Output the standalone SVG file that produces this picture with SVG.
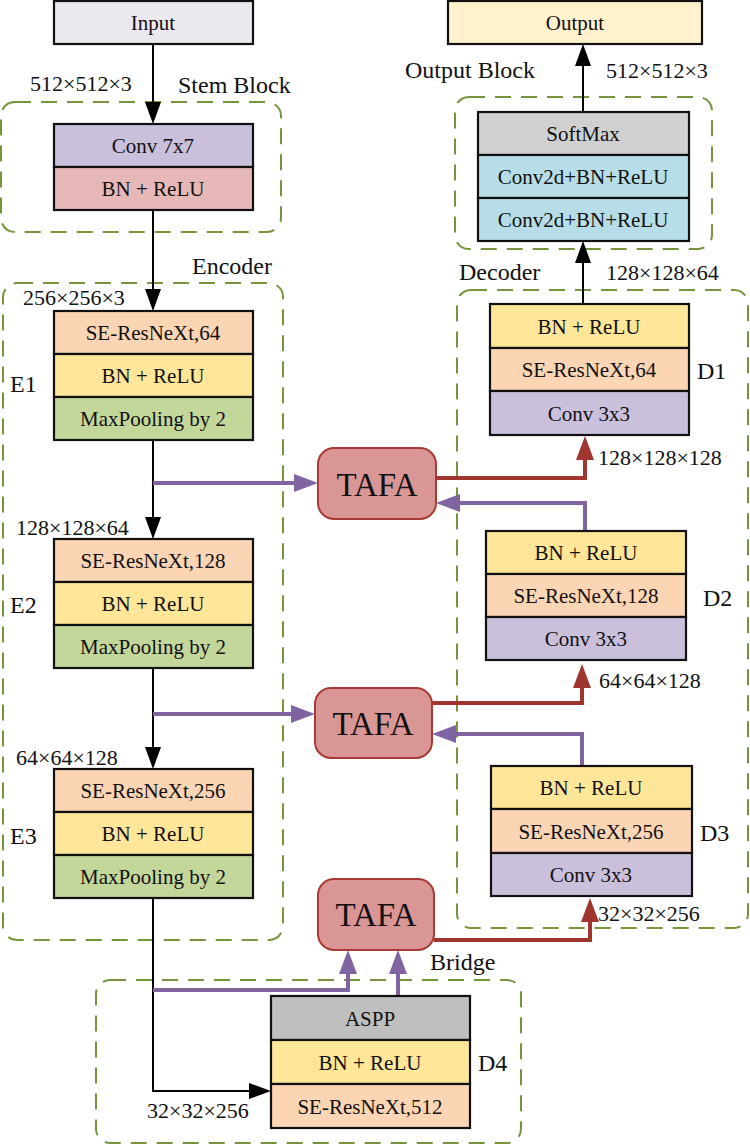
<svg xmlns="http://www.w3.org/2000/svg" width="750" height="1146" viewBox="0 0 750 1146">
<defs>
<style>
text{font-family:"Liberation Serif","Times New Roman",serif;font-size:21px;fill:#111}
.m{text-anchor:middle}
.b{stroke:#111;stroke-width:2.2}
.grp{fill:none;stroke:#77933c;stroke-width:2;stroke-dasharray:16,10}
.bk{fill:none;stroke:#000;stroke-width:2}
.pu{fill:none;stroke:#8064a2;stroke-width:4}
.rd{fill:none;stroke:#a0342f;stroke-width:4}
.tafa{fill:#da9694;stroke:#a83b35;stroke-width:2}
.big{font-size:24px}
.dim{font-size:22px}
.t{font-size:33px}
</style>
</defs>
<rect width="750" height="1146" fill="#fff"/>

<g id="groups">
<rect class="grp" x="1" y="102" width="280" height="130" rx="14"/>
<rect class="grp" x="3" y="283" width="280" height="657" rx="14"/>
<rect class="grp" x="457" y="290" width="291" height="638" rx="14"/>
<rect class="grp" x="455" y="97" width="257" height="152" rx="14"/>
<rect class="grp" x="96" y="980" width="425" height="163" rx="14"/>
<text x="178" y="93" class="big">Stem Block</text>
<text x="192" y="274" class="big">Encoder</text>
<text x="459" y="280" class="big">Decoder</text>
<text x="405" y="78" class="big">Output Block</text>
<text x="430" y="970" class="big">Bridge</text>
</g>

<g id="connectors">
<line class="bk" x1="153" y1="44" x2="153" y2="105"/>
<path d="M145,102 L161,102 L153,124z" fill="#000"/>
<line class="bk" x1="153" y1="210" x2="153" y2="292"/>
<path d="M145,289 L161,289 L153,311z" fill="#000"/>
<line class="bk" x1="153" y1="440" x2="153" y2="520"/>
<path d="M145,517 L161,517 L153,539z" fill="#000"/>
<line class="bk" x1="153" y1="668" x2="153" y2="750"/>
<path d="M145,747 L161,747 L153,769z" fill="#000"/>
<polyline class="bk" points="153,898 153,1091 252,1091"/>
<path d="M249,1083 L271,1091 L249,1099z" fill="#000"/>
<line class="bk" x1="583" y1="304" x2="583" y2="262"/>
<path d="M575,263 L591,263 L583,241z" fill="#000"/>
<line class="bk" x1="583" y1="112" x2="583" y2="64"/>
<path d="M575,66 L591,66 L583,44z" fill="#000"/>

<polyline class="pu" points="153,483 298,483"/>
<path d="M294,474 L318,483 L294,492z" fill="#8064a2"/>
<polyline class="pu" points="153,714 295,714"/>
<path d="M291,705 L315,714 L291,723z" fill="#8064a2"/>
<polyline class="pu" points="585,531 585,503 456,503"/>
<path d="M460,494 L436,503 L460,512z" fill="#8064a2"/>
<polyline class="pu" points="582,766 582,734 452,734"/>
<path d="M456,725 L432,734 L456,743z" fill="#8064a2"/>
<polyline class="pu" points="153,990 348,990 348,970"/>
<path d="M339,974 L348,950 L357,974z" fill="#8064a2"/>
<polyline class="pu" points="398,996 398,970"/>
<path d="M389,974 L398,950 L407,974z" fill="#8064a2"/>

<polyline class="rd" points="436,478 585,478 585,456"/>
<path d="M576,460 L585,436 L594,460z" fill="#a0342f"/>
<polyline class="rd" points="432,703 582,703 582,684"/>
<path d="M573,688 L582,664 L591,688z" fill="#a0342f"/>
<polyline class="rd" points="434,940 590,940 590,918"/>
<path d="M581,922 L590,898 L599,922z" fill="#a0342f"/>
</g>

<g id="labels">
<text x="30" y="91" class="dim">512×512×3</text>
<text x="23" y="305" class="dim">256×256×3</text>
<text x="16" y="535" class="dim">128×128×64</text>
<text x="16" y="765" class="dim">64×64×128</text>
<text x="147" y="1118" class="dim">32×32×256</text>
<text x="606" y="78" class="dim">512×512×3</text>
<text x="606" y="280" class="dim">128×128×64</text>
<text x="598" y="465" class="dim">128×128×128</text>
<text x="599" y="688" class="dim">64×64×128</text>
<text x="598" y="921" class="dim">32×32×256</text>
</g>

<g id="input"><rect class="b" x="54" y="1" width="199" height="43" fill="#ebe8f0"/><text class="m" x="153" y="30">Input</text></g>
<g id="output"><rect class="b" x="448" y="1" width="254" height="43" fill="#fff2cc"/><text class="m" x="575" y="30">Output</text></g>

<g id="stem">
<rect class="b" x="54" y="124" width="199" height="43" fill="#cbc0dc"/><text class="m" x="153" y="153">Conv 7x7</text>
<rect class="b" x="54" y="167" width="199" height="43" fill="#e6b8b7"/><text class="m" x="153" y="196">BN + ReLU</text>
</g>

<g id="E1">
<rect class="b" x="54" y="311" width="199" height="43" fill="#fcd5b5"/><text class="m" x="153" y="340">SE-ResNeXt,64</text>
<rect class="b" x="54" y="354" width="199" height="43" fill="#ffe699"/><text class="m" x="153" y="383">BN + ReLU</text>
<rect class="b" x="54" y="397" width="199" height="43" fill="#c4d79b"/><text class="m" x="153" y="426">MaxPooling by 2</text>
<text x="10" y="392" class="big">E1</text>
</g>
<g id="E2">
<rect class="b" x="54" y="539" width="199" height="43" fill="#fcd5b5"/><text class="m" x="153" y="568">SE-ResNeXt,128</text>
<rect class="b" x="54" y="582" width="199" height="43" fill="#ffe699"/><text class="m" x="153" y="611">BN + ReLU</text>
<rect class="b" x="54" y="625" width="199" height="43" fill="#c4d79b"/><text class="m" x="153" y="654">MaxPooling by 2</text>
<text x="10" y="613" class="big">E2</text>
</g>
<g id="E3">
<rect class="b" x="54" y="769" width="199" height="43" fill="#fcd5b5"/><text class="m" x="153" y="798">SE-ResNeXt,256</text>
<rect class="b" x="54" y="812" width="199" height="43" fill="#ffe699"/><text class="m" x="153" y="841">BN + ReLU</text>
<rect class="b" x="54" y="855" width="199" height="43" fill="#c4d79b"/><text class="m" x="153" y="884">MaxPooling by 2</text>
<text x="10" y="844" class="big">E3</text>
</g>

<g id="outblock">
<rect class="b" x="478" y="112" width="211" height="43" fill="#d0d0d0"/><text class="m" x="583" y="141">SoftMax</text>
<rect class="b" x="478" y="155" width="211" height="43" fill="#b7dee8"/><text class="m" x="583" y="184">Conv2d+BN+ReLU</text>
<rect class="b" x="478" y="198" width="211" height="43" fill="#b7dee8"/><text class="m" x="583" y="227">Conv2d+BN+ReLU</text>
</g>

<g id="D1">
<rect class="b" x="490" y="304" width="199" height="44" fill="#ffe699"/><text class="m" x="589" y="334">BN + ReLU</text>
<rect class="b" x="490" y="348" width="199" height="43" fill="#fcd5b5"/><text class="m" x="589" y="377">SE-ResNeXt,64</text>
<rect class="b" x="490" y="391" width="199" height="44" fill="#cbc0dc"/><text class="m" x="589" y="421">Conv 3x3</text>
<text x="697" y="379" class="big">D1</text>
</g>
<g id="D2">
<rect class="b" x="486" y="531" width="200" height="43" fill="#ffe699"/><text class="m" x="586" y="560">BN + ReLU</text>
<rect class="b" x="486" y="574" width="200" height="43" fill="#fcd5b5"/><text class="m" x="586" y="603">SE-ResNeXt,128</text>
<rect class="b" x="486" y="617" width="200" height="43" fill="#cbc0dc"/><text class="m" x="586" y="646">Conv 3x3</text>
<text x="703" y="606" class="big">D2</text>
</g>
<g id="D3">
<rect class="b" x="491" y="766" width="201" height="43" fill="#ffe699"/><text class="m" x="591" y="795">BN + ReLU</text>
<rect class="b" x="491" y="809" width="201" height="44" fill="#fcd5b5"/><text class="m" x="591" y="839">SE-ResNeXt,256</text>
<rect class="b" x="491" y="853" width="201" height="43" fill="#cbc0dc"/><text class="m" x="591" y="882">Conv 3x3</text>
<text x="700" y="841" class="big">D3</text>
</g>
<g id="D4">
<rect class="b" x="271" y="996" width="199" height="44" fill="#bfbfbf"/><text class="m" x="370" y="1026">ASPP</text>
<rect class="b" x="271" y="1040" width="199" height="44" fill="#ffe699"/><text class="m" x="370" y="1070">BN + ReLU</text>
<rect class="b" x="271" y="1084" width="199" height="44" fill="#fcd5b5"/><text class="m" x="370" y="1114">SE-ResNeXt,512</text>
<text x="478" y="1071" class="big">D4</text>
</g>

<g id="tafa1"><rect class="tafa" x="318" y="448" width="118" height="71" rx="16"/><text class="m t" x="377" y="496">TAFA</text></g>
<g id="tafa2"><rect class="tafa" x="315" y="688" width="117" height="70" rx="16"/><text class="m t" x="373" y="735">TAFA</text></g>
<g id="tafa3"><rect class="tafa" x="318" y="879" width="116" height="71" rx="16"/><text class="m t" x="376" y="926">TAFA</text></g>
</svg>
